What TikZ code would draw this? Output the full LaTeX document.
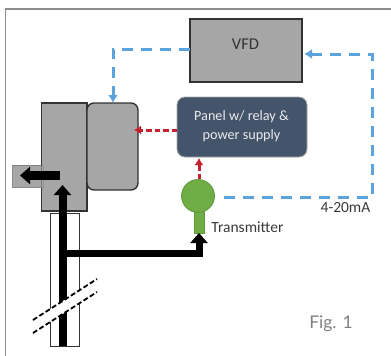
\documentclass[tikz,border=0pt]{standalone}
\usepackage{fontspec}
\setmainfont{Carlito}
\newfontfamily\figfont{Lato}
\usetikzlibrary{arrows.meta,calc}
\definecolor{boxgray}{HTML}{A6A6A6}
\definecolor{edgedark}{HTML}{333333}
\definecolor{panelblue}{HTML}{44546A}
\definecolor{linkblue}{HTML}{5BA3DC}
\definecolor{linkred}{HTML}{C8202F}
\definecolor{sensorgreen}{HTML}{70AD47}
\definecolor{sensoredge}{HTML}{5C9A3C}
\definecolor{framegray}{HTML}{8C8C8C}
\definecolor{lbl}{HTML}{3A3A3A}
\tikzset{
  x=1pt,y=-1pt,
  bluelink/.style={draw=linkblue,line width=3pt,dash pattern=on 11pt off 8pt},
  redlink/.style={draw=linkred,line width=3pt,dash pattern=on 5.5pt off 3pt},
  bluehead/.style={-{Latex[length=8pt,width=10pt,color=linkblue]}},
  redhead/.style={-{Latex[length=7pt,width=9pt,color=linkred]}},
  thick arrow/.style={draw=black,line width=#1,-{Triangle[length=10pt,width=17pt]}},
  breakline/.style={draw=black,line width=1.8pt,dash pattern=on 5pt off 2.5pt},
  txt/.style={text=lbl,inner sep=0pt,font=\fontsize{15.5}{17}\selectfont},
}
\begin{document}
\begin{tikzpicture}
\useasboundingbox (0,0) rectangle (391,356);
% frame
\draw[framegray,line width=1.3pt] (5.5,356) -- (5.5,9) -- (391,9);
% pipe
\node[draw=edgedark,line width=1pt,fill=white,inner sep=0pt,minimum width=29pt,minimum height=133pt] (pipe) at (64.5,280) {};
% outlet under body
\node[draw=gray,fill=boxgray,line width=1pt,inner sep=0pt,minimum width=31pt,minimum height=22pt] (outlet) at (27.5,176.5) {};
% motor
\node[draw=edgedark,fill=boxgray,line width=1.4pt,inner sep=0pt,minimum width=45.5pt,minimum height=108pt] (body) at (64.25,157) {};
\node[draw=edgedark,fill=boxgray,line width=1.4pt,rounded corners=7pt,inner sep=0pt,minimum width=51pt,minimum height=87pt] (motor) at (112.5,146.5) {};
\node[draw=gray,fill=boxgray,line width=1pt,inner sep=0pt,minimum width=31pt,minimum height=22pt,fill opacity=0.6,draw opacity=0.5] (outletover) at (27.5,176.5) {};
% VFD and panel
\node[draw=edgedark,fill=boxgray,line width=1.6pt,inner sep=0pt,minimum width=112pt,minimum height=63pt] (vfd) at (246,50.5) {};
\node[text=edgedark,inner sep=0pt,font=\fontsize{16.5}{18}\selectfont] (vfdlabel) at (245.5,44) {VFD};
\node[draw=gray!70,fill=panelblue,line width=0.8pt,rounded corners=8pt,inner sep=0pt,minimum width=130pt,minimum height=60pt] (panel) at (242,127) {};
\node[text=white!88!panelblue,align=center,inner sep=0pt,font=\fontsize{14.2}{18.5}\selectfont] (paneltext) at (241.5,126) {Panel w/ relay \&\\power supply};
% transmitter
\node[draw=sensoredge,fill=sensorgreen,line width=0.8pt,inner sep=0pt,minimum width=10pt,minimum height=24pt] (stem) at (199,221) {};
\node[circle,draw=sensoredge,fill=sensorgreen,line width=0.8pt,inner sep=0pt,minimum size=33pt] (bulb) at (198,196) {};
% coordinates
\coordinate (pipebot) at (62.5,346);
\coordinate (pipetee) at (62.5,253);
\coordinate (bend) at (199,253);
\coordinate (uptip) at (62.5,185);
\coordinate (leftstart) at (60,175.5);
\coordinate (lefttip) at (20,175.5);
\coordinate (bluecorner1) at (113,49);
\coordinate (bluecorner2) at (372,197.5);
\coordinate (bluecorner3) at (372,54);
\coordinate (bluestart) at (224,197.5);
\coordinate (blueend) at (304,54);
\coordinate (blueend2) at (113,103);
\coordinate (vfdleft) at (190,49);
\coordinate (panelleft) at (177,130);
\coordinate (motorright) at (134,130);
\coordinate (bulbtop) at (199,179);
\coordinate (panelbot) at (199,158);
\coordinate (stembot) at (199,233);
\coordinate (b1a) at (33,320); \coordinate (b1b) at (97,279);
\coordinate (b2a) at (33,333); \coordinate (b2b) at (97,292);
% thick black
\draw[thick arrow=8pt] (pipebot) -- (uptip);
\draw[thick arrow=9pt] (leftstart) -- (lefttip);
\draw[thick arrow=7pt] (pipetee) -- (bend) -- (stembot);
% break
\fill[white] (b1a) -- (b1b) -- (b2b) -- (b2a) -- cycle;
\draw[breakline] (b1a) -- (b1b);
\draw[breakline] (b2a) -- (b2b);
% signal links
\draw[bluelink,bluehead] (vfdleft) -- (bluecorner1) -- (blueend2);
\draw[bluelink,bluehead] (bluestart) -- (bluecorner2) -- (bluecorner3) -- (blueend);
\draw[redlink,redhead] (panelleft) -- (motorright);
\draw[redlink,redhead] (bulbtop) -- (panelbot);
% labels
\node[txt] (xmit) at (247.5,227) {Transmitter};
\node[txt] (ma) at (345.5,208) {4-20mA};
\node[inner sep=0pt,text=gray,font=\figfont\fontsize{17.5}{20}\selectfont] (fig) at (331,324) {Fig. 1};
\end{tikzpicture}
\end{document}
